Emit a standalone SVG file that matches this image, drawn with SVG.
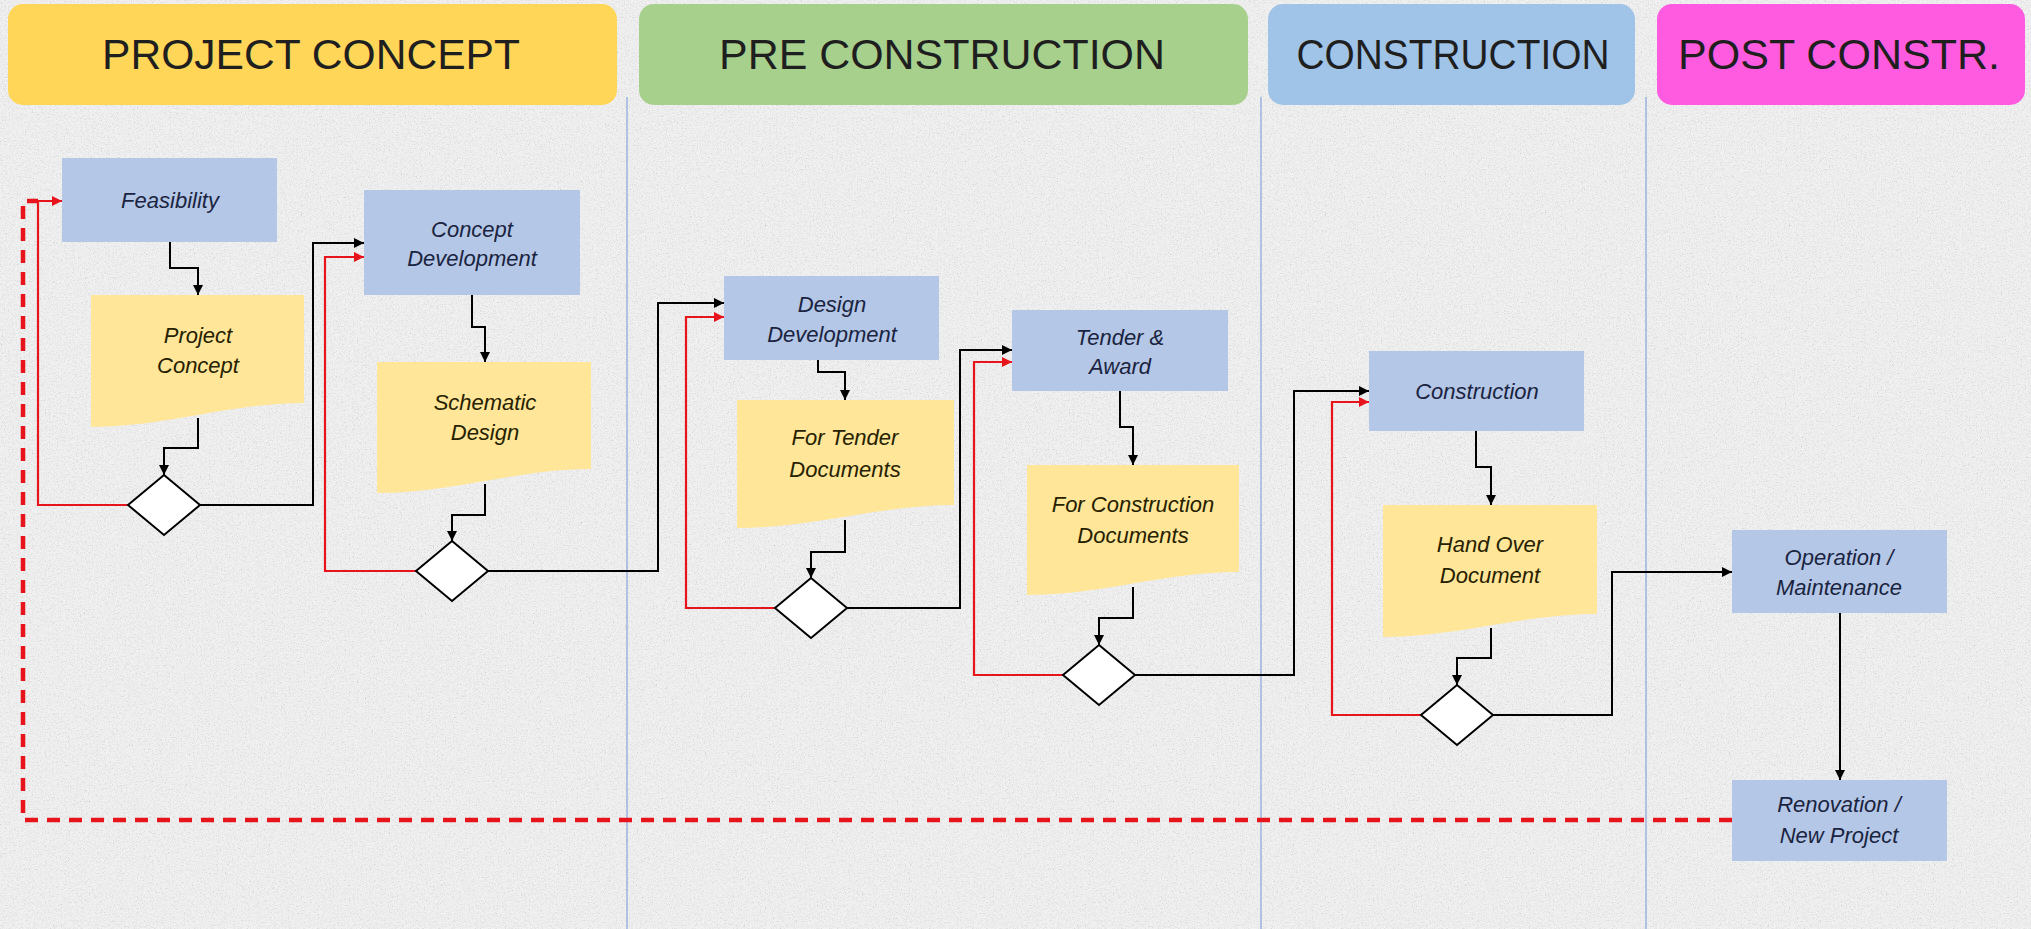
<svg xmlns="http://www.w3.org/2000/svg" width="2031" height="929" viewBox="0 0 2031 929">
<defs>
<filter id="grain" x="0" y="0" width="100%" height="100%">
<feTurbulence type="fractalNoise" baseFrequency="0.75" numOctaves="2" seed="7" result="n"/>
<feColorMatrix in="n" type="matrix" values="0.6 0.6 0.6 0 0.05  0.6 0.6 0.6 0 0.05  0.6 0.6 0.6 0 0.05  0 0 0 0 0.5"/>
</filter>
<marker id="ab" viewBox="0 0 10 10" refX="10" refY="5" markerWidth="12" markerHeight="10" markerUnits="userSpaceOnUse" orient="auto"><path d="M0,0 L10,5 L0,10 z" fill="#000"/></marker>
<marker id="ar" viewBox="0 0 10 10" refX="10" refY="5" markerWidth="12" markerHeight="10" markerUnits="userSpaceOnUse" orient="auto"><path d="M0,0 L10,5 L0,10 z" fill="#e8141c"/></marker>
<style>
.hdr{font-family:"Liberation Sans",Arial,sans-serif;font-size:42px;fill:#1f1f1f;text-anchor:middle}
.lane{stroke:#8faadc;stroke-width:1.3;fill:none}
.box{fill:#b4c7e7}
.doc{fill:#ffe699}
.dia{fill:#fff;stroke:#000;stroke-width:2}
.bt{font-family:"Liberation Sans",Arial,sans-serif;font-style:italic;font-size:22px;fill:#1a2440;text-anchor:middle}
.dt{font-family:"Liberation Sans",Arial,sans-serif;font-style:italic;font-size:22px;fill:#262100;text-anchor:middle}
.cb{fill:none;stroke:#000;stroke-width:2;marker-end:url(#ab)}
.cr{fill:none;stroke:#e8141c;stroke-width:2.2;marker-end:url(#ar)}
.cd{fill:none;stroke:#e8141c;stroke-width:4.5;stroke-dasharray:13 9}
</style>
</defs>
<rect width="2031" height="929" fill="#e2e2e2"/>
<rect width="2031" height="929" fill="#fff" filter="url(#grain)"/>

<g id="lanes">
<line class="lane" x1="627" y1="97" x2="627" y2="929"/>
<line class="lane" x1="1261" y1="97" x2="1261" y2="929"/>
<line class="lane" x1="1646" y1="97" x2="1646" y2="929"/>
</g>

<g id="header-project-concept"><rect x="8" y="4" width="609" height="101" rx="15" fill="#ffd658"/><text class="hdr" x="311" y="69" textLength="418" lengthAdjust="spacingAndGlyphs">PROJECT CONCEPT</text></g>
<g id="header-pre-construction"><rect x="639" y="4" width="609" height="101" rx="15" fill="#a8d08d"/><text class="hdr" x="942" y="69" textLength="446" lengthAdjust="spacingAndGlyphs">PRE CONSTRUCTION</text></g>
<g id="header-construction"><rect x="1268" y="4" width="367" height="101" rx="15" fill="#a0c4e8"/><text class="hdr" x="1453" y="69" textLength="313" lengthAdjust="spacingAndGlyphs">CONSTRUCTION</text></g>
<g id="header-post-constr"><rect x="1657" y="4" width="368" height="101" rx="15" fill="#ff5be0"/><text class="hdr" x="1839" y="69" textLength="322" lengthAdjust="spacingAndGlyphs">POST CONSTR.</text></g>

<g id="connectors">
<path class="cd" d="M1732,820 H23 V201 H38"/>
<path class="cb" d="M170,242 V268 H198 V295"/>
<path class="cb" d="M198,418 V448 H164 V475"/>
<path class="cb" d="M200,505 H313 V243 H364"/>
<path class="cb" d="M472,295 V327 H485 V362"/>
<path class="cb" d="M485,484 V515 H452 V541"/>
<path class="cb" d="M488,571 H658 V303 H724"/>
<path class="cb" d="M818,360 V372 H845 V400"/>
<path class="cb" d="M845,520 V552 H811 V578"/>
<path class="cb" d="M847,608 H960 V350 H1012"/>
<path class="cb" d="M1120,391 V427 H1133 V465"/>
<path class="cb" d="M1133,587 V618 H1099 V645"/>
<path class="cb" d="M1135,675 H1294 V391 H1369"/>
<path class="cb" d="M1476,431 V467 H1491 V505"/>
<path class="cb" d="M1491,628 V658 H1457 V685"/>
<path class="cb" d="M1493,715 H1612 V572 H1732"/>
<path class="cb" d="M1840,613 V780"/>
<path class="cr" d="M128,505 H38 V201 H62"/>
<path class="cr" d="M416,571 H325 V257 H364"/>
<path class="cr" d="M775,608 H686 V317 H724"/>
<path class="cr" d="M1063,675 H974 V362 H1012"/>
<path class="cr" d="M1421,715 H1332 V402 H1369"/>
</g>

<g id="feasibility"><rect class="box" x="62" y="158" width="215" height="84"/><text class="bt" x="170" y="208">Feasibility</text></g>
<g id="project-concept"><path class="doc" d="M91,295 H304 V403 C230,403 165,427 91,427 Z"/><text class="dt" x="198" y="343">Project</text><text class="dt" x="198" y="373">Concept</text></g>
<g id="decision-1"><polygon class="dia" points="164,475 200,505 164,535 128,505"/></g>

<g id="concept-development"><rect class="box" x="364" y="190" width="216" height="105"/><text class="bt" x="472" y="237">Concept</text><text class="bt" x="472" y="266">Development</text></g>
<g id="schematic-design"><path class="doc" d="M377,362 H591 V469 C517,469 452,493 377,493 Z"/><text class="dt" x="485" y="410">Schematic</text><text class="dt" x="485" y="440">Design</text></g>
<g id="decision-2"><polygon class="dia" points="452,541 488,571 452,601 416,571"/></g>

<g id="design-development"><rect class="box" x="724" y="276" width="215" height="84"/><text class="bt" x="832" y="312">Design</text><text class="bt" x="832" y="342">Development</text></g>
<g id="for-tender-documents"><path class="doc" d="M737,400 H954 V505 C879,505 813,528 737,528 Z"/><text class="dt" x="845" y="445">For Tender</text><text class="dt" x="845" y="477">Documents</text></g>
<g id="decision-3"><polygon class="dia" points="811,578 847,608 811,638 775,608"/></g>

<g id="tender-award"><rect class="box" x="1012" y="310" width="216" height="81"/><text class="bt" x="1120" y="345">Tender &amp;</text><text class="bt" x="1120" y="374">Award</text></g>
<g id="for-construction-documents"><path class="doc" d="M1027,465 H1239 V572 C1165,572 1101,595 1027,595 Z"/><text class="dt" x="1133" y="512">For Construction</text><text class="dt" x="1133" y="543">Documents</text></g>
<g id="decision-4"><polygon class="dia" points="1099,645 1135,675 1099,705 1063,675"/></g>

<g id="construction"><rect class="box" x="1369" y="351" width="215" height="80"/><text class="bt" x="1477" y="399">Construction</text></g>
<g id="hand-over-document"><path class="doc" d="M1383,505 H1597 V614 C1522,614 1458,637 1383,637 Z"/><text class="dt" x="1490" y="552">Hand Over</text><text class="dt" x="1490" y="583">Document</text></g>
<g id="decision-5"><polygon class="dia" points="1457,685 1493,715 1457,745 1421,715"/></g>

<g id="operation-maintenance"><rect class="box" x="1732" y="530" width="215" height="83"/><text class="bt" x="1839" y="565">Operation /</text><text class="bt" x="1839" y="595">Maintenance</text></g>
<g id="renovation-new-project"><rect class="box" x="1732" y="780" width="215" height="81"/><text class="bt" x="1839" y="812">Renovation /</text><text class="bt" x="1839" y="843">New Project</text></g>
</svg>
